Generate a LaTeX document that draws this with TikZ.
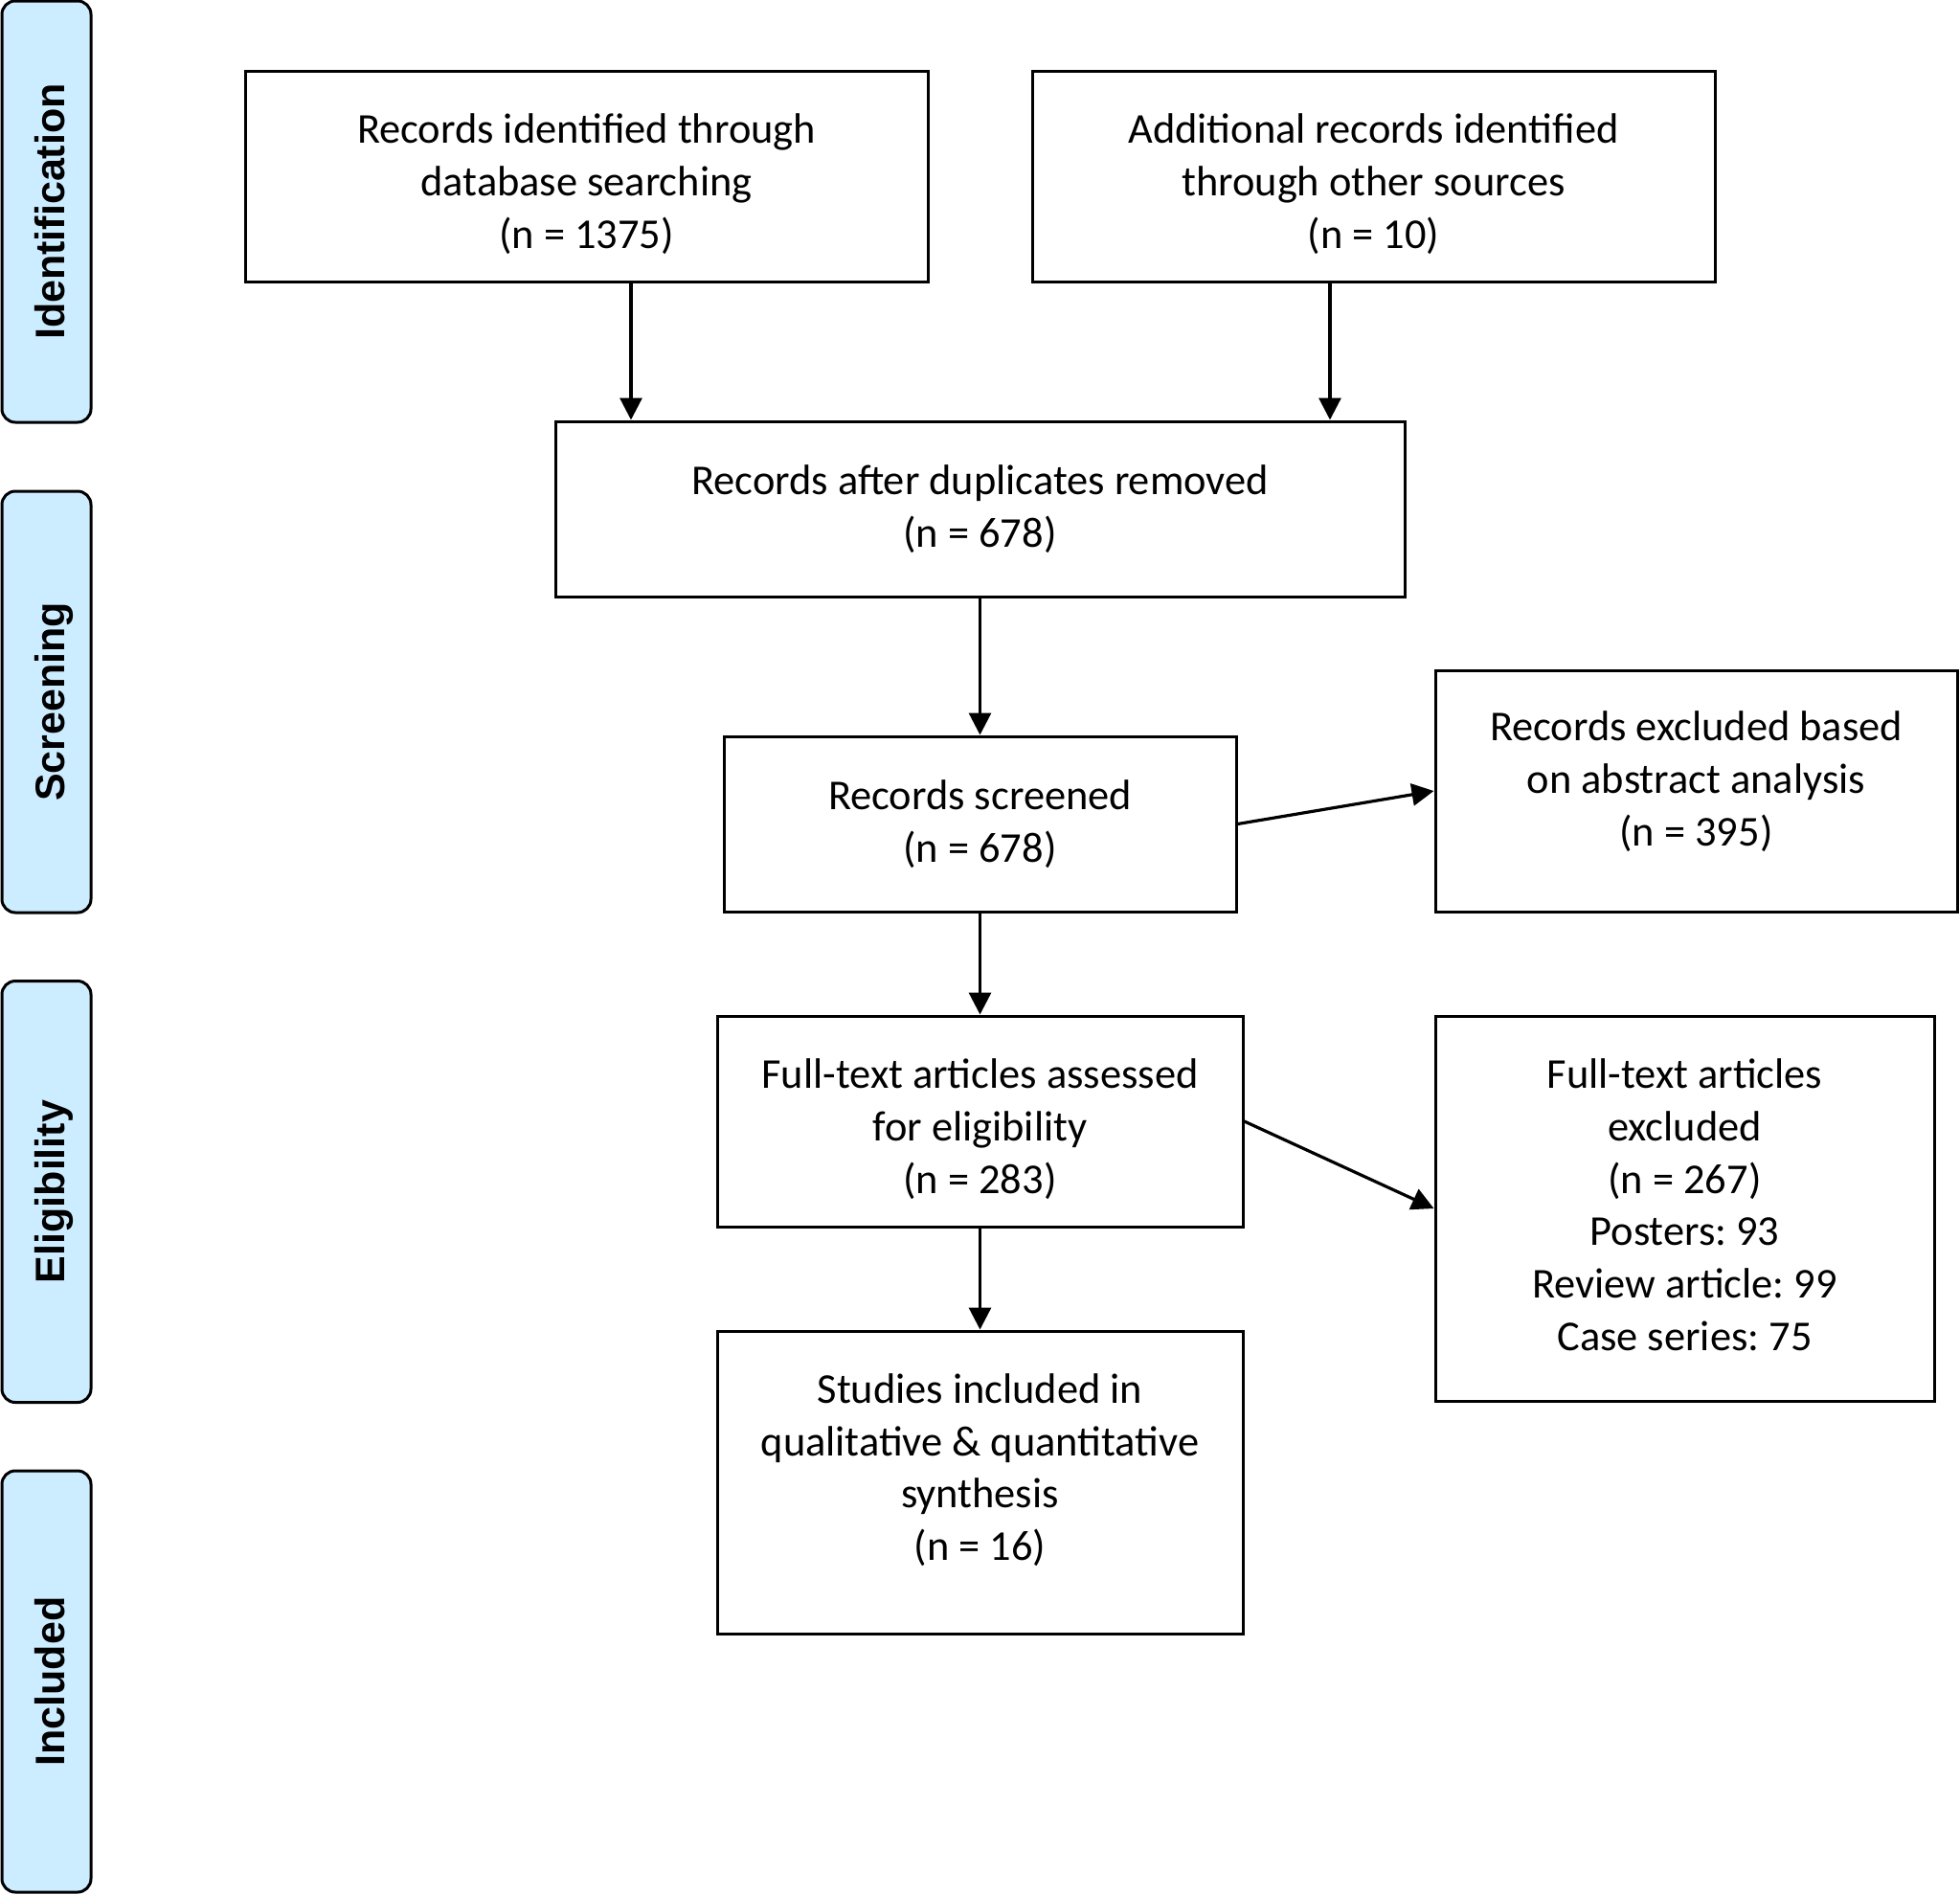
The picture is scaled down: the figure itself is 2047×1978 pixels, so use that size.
\documentclass[tikz,border=0pt]{standalone}
\usepackage{fontspec}
\setmainfont{Carlito}
\newfontfamily\phasefont{Liberation Sans}
\usetikzlibrary{arrows.meta}
\definecolor{phasefill}{RGB}{204,236,255}
\frenchspacing
\begin{document}
\begin{tikzpicture}[x=0.5pt,y=-0.5pt,
  box/.style={draw=black, line width=1.5pt, inner sep=0pt, align=center,
    font=\fontsize{22.2pt}{27.4pt}\selectfont},
  phase/.style={draw=black, line width=1.5pt, fill=phasefill, rounded corners=7pt,
    inner sep=0pt, rotate=90, minimum width=220pt, minimum height=46.5pt,
    text height=19.5pt, text depth=0pt,
    font=\phasefont\bfseries\fontsize{21.5pt}{26pt}\selectfont},
  arr/.style={line width=1.6pt, -{Triangle[width=11.5pt,length=11.5pt]}}
]
\useasboundingbox (0,0) rectangle (2047,1978);

% phase labels
\node[phase] (id)   at (48.5,221)    {Identification};
\node[phase] (scr)  at (48.5,733)    {Screening};
\node[phase] (elig) at (48.5,1244.5) {Eligibility};
\node[phase] (incl) at (48.5,1756)   {Included};

% boxes
\node[box, minimum width=356.5pt, minimum height=110pt] (b1) at (612.5,184)
  {\mbox{}\\[-3.6pt]Records identified through\\database searching\\(n = 1375)};
\node[box, minimum width=356.5pt, minimum height=110pt] (b2) at (1434.5,184)
  {\mbox{}\\[-3.6pt]Additional records identified\\through other sources\\(n = 10)};
\node[box, minimum width=443.5pt, minimum height=91.5pt] (b3) at (1023.5,531.5)
  {Records after duplicates removed\\(n = 678)};
\node[box, minimum width=267.5pt, minimum height=91.5pt] (b4) at (1023.5,860.5)
  {Records screened\\(n = 678)};
\node[box, minimum width=272.5pt, minimum height=126pt] (b5) at (1771.5,826)
  {Records excluded based\\on abstract analysis\\(n = 395)\\[-14.7pt]\mbox{}};
\node[box, minimum width=274.5pt, minimum height=110pt] (b6) at (1023.5,1171)
  {\mbox{}\\[-3.6pt]Full-text articles assessed\\for eligibility\\(n = 283)};
\node[box, minimum width=260.5pt, minimum height=201pt] (b7) at (1759.5,1262)
  {Full-text articles\\excluded\\(n = 267)\\Posters: 93\\Review article: 99\\Case series: 75\\[-23.4pt]\mbox{}};
\node[box, minimum width=274.5pt, minimum height=158pt] (b8) at (1023.5,1548)
  {Studies included in\\qualitative \& quantitative\\synthesis\\(n = 16)\\[-11.5pt]\mbox{}};

% connectors
\coordinate (c1) at (659,0);
\coordinate (c2) at (1389,0);
\draw[arr] (b1.south -| c1) -- (b3.north -| c1);
\draw[arr] (b2.south -| c2) -- (b3.north -| c2);
\draw[arr] (b3.south) -- (b4.north);
\draw[arr] (b4.east) -- (b5.west);
\draw[arr] (b4.south) -- (b6.north);
\draw[arr] (b6.east) -- (b7.west);
\draw[arr] (b6.south) -- (b8.north);
\end{tikzpicture}
\end{document}
